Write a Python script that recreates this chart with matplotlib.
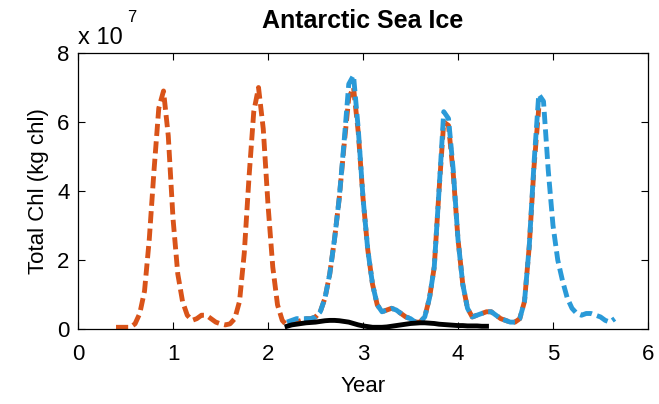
import numpy as np
import matplotlib
matplotlib.use("Agg")
import matplotlib.pyplot as plt
from matplotlib.ticker import FuncFormatter

# total chlorophyll, in units of 1e7 kg chl, sampled every 0.05 yr
scale = 1e7

orange_start = 0.40
orange_chl = [0.05, 0.05, 0.05, 0.05, 0.15, 0.45, 1.1, 2.6, 4.6, 6.4,
              6.9, 5.6, 3.2, 1.6, 0.8, 0.4, 0.25, 0.3, 0.4, 0.4,
              0.3, 0.2, 0.15, 0.12, 0.15, 0.3, 0.8, 2.2, 4.4, 6.3,
              7.0, 5.8, 3.6, 1.8, 0.7, 0.25, 0.1, 0.15, 0.2, 0.25,
              0.3, 0.3, 0.35, 0.5, 0.9, 1.6, 2.6, 3.8, 5.3, 6.7,
              7.0, 5.7, 3.8, 2.3, 1.3, 0.7, 0.5, 0.55, 0.6, 0.55,
              0.45, 0.35, 0.3, 0.2, 0.2, 0.35, 0.9, 1.8, 4.0, 6.0,
              5.9, 4.5, 2.6, 1.3, 0.6, 0.35, 0.4, 0.45, 0.5, 0.5,
              0.4, 0.3, 0.25, 0.2, 0.2, 0.3, 0.8, 2.4, 4.7, 6.4]

blue_start = 2.20
blue_chl = [0.2, 0.25, 0.3, 0.3, 0.3, 0.3, 0.35, 0.5, 0.9, 1.6,
            2.6, 3.8, 5.4, 7.1, 7.35, 5.8, 3.8, 2.3, 1.3, 0.7,
            0.5, 0.55, 0.6, 0.55, 0.45, 0.35, 0.3, 0.2, 0.2, 0.35,
            0.9, 1.8, 4.0, 6.3, 6.1, 4.6, 2.6, 1.3, 0.6, 0.35,
            0.4, 0.45, 0.5, 0.5, 0.4, 0.3, 0.25, 0.2, 0.2, 0.3,
            0.8, 2.4, 4.8, 6.8, 6.6, 4.6, 3.0, 2.0, 1.4, 0.9,
            0.6, 0.45, 0.4, 0.45, 0.45, 0.4, 0.35, 0.25, 0.2, 0.3]

black_start = 2.20
black_chl = [0.08, 0.12, 0.14, 0.16, 0.18, 0.19, 0.2, 0.22, 0.24, 0.25,
             0.25, 0.24, 0.22, 0.2, 0.16, 0.12, 0.09, 0.07, 0.05, 0.05,
             0.05, 0.06, 0.08, 0.1, 0.12, 0.14, 0.16, 0.17, 0.18, 0.18,
             0.17, 0.16, 0.14, 0.13, 0.12, 0.11, 0.1, 0.1, 0.09, 0.09,
             0.09, 0.08, 0.08]

step = 0.05


def years(start, vals):
    return start + step * np.arange(len(vals))


plt.rcParams['font.family'] = ['Liberation Sans', 'DejaVu Sans']

fig = plt.figure(figsize=(6.59, 4.04), dpi=100)
ax = fig.add_axes([0.1184, 0.1856, 0.8649, 0.6832])

dash = (2.5, 1.1)
ax.plot(years(orange_start, orange_chl), np.array(orange_chl) * scale,
        color='#D95319', lw=3.5, dashes=dash)
ax.plot(years(blue_start, blue_chl), np.array(blue_chl) * scale,
        color='#2A9AD8', lw=3.5, dashes=dash)
ax.plot(years(black_start, black_chl), np.array(black_chl) * scale,
        color='black', lw=3.5)

ax.set_xlim(0, 6)
ax.set_ylim(0, 8e7)
ax.set_xticks(range(0, 7))
ax.set_yticks(np.arange(0, 9, 2) * scale)
ax.yaxis.set_major_formatter(FuncFormatter(lambda v, p: '%g' % (v / scale)))

ax.tick_params(direction='in', length=5, width=0.8, top=True, right=True,
               labelsize=16)
ax.tick_params(axis='x', pad=11)
ax.tick_params(axis='y', pad=6)
for s in ax.spines.values():
    s.set_linewidth(0.9)

ax.set_title('Antarctic Sea Ice', fontsize=18, fontweight='bold', pad=18)
ax.set_xlabel('Year', fontsize=16, labelpad=8)
ax.set_ylabel('Total Chl (kg chl)', fontsize=16, labelpad=6)

# exponent label above the y axis
ax.text(0.0, 1.015, 'x 10', transform=ax.transAxes, fontsize=17,
        ha='left', va='bottom')
ax.text(0.086, 1.10, '7', transform=ax.transAxes, fontsize=12,
        ha='left', va='bottom')

fig.savefig('out.png', dpi=100)
